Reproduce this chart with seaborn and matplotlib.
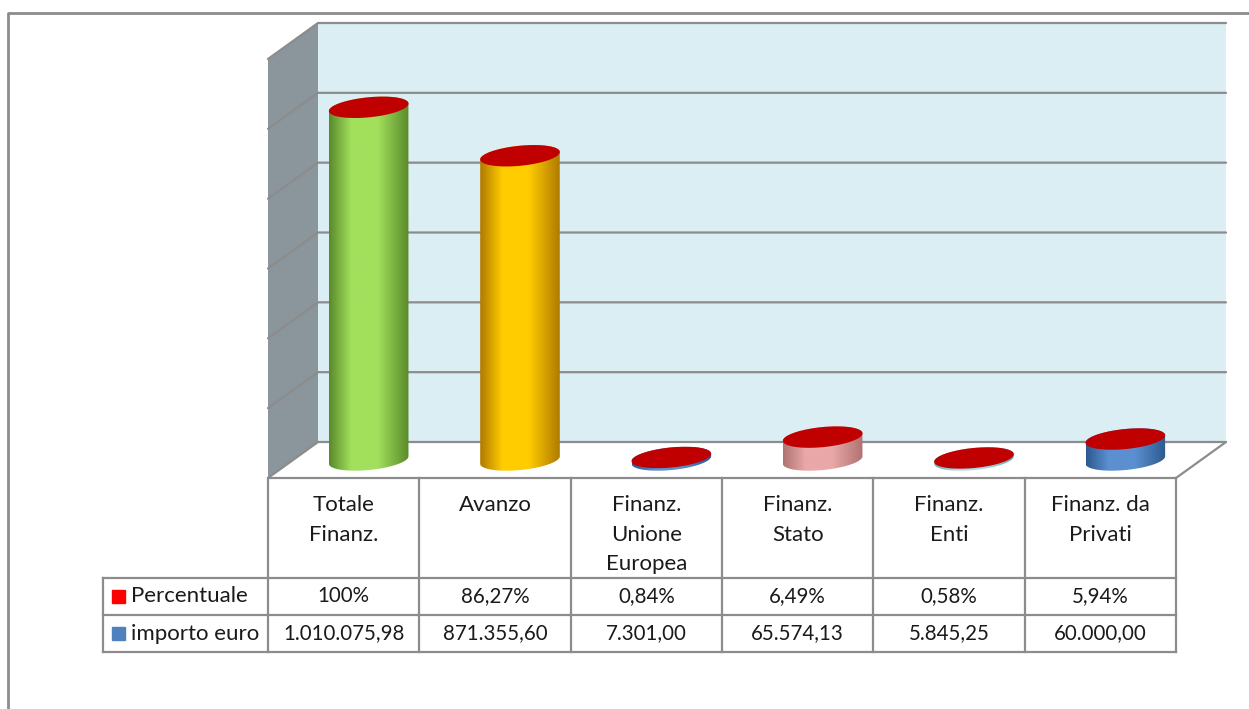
import numpy as np
import pandas as pd
import seaborn as sns
import matplotlib.pyplot as plt
from matplotlib.colors import LinearSegmentedColormap
from matplotlib.patches import Polygon, Rectangle, PathPatch
from matplotlib.path import Path
from matplotlib.lines import Line2D

# data
CATEGORIES = ["Totale\nFinanz.", "Avanzo", "Finanz.\nUnione\nEuropea",
              "Finanz.\nStato", "Finanz.\nEnti", "Finanz. da\nPrivati"]
IMPORTO = [1010075.98, 871355.60, 7301.00, 65574.13, 5845.25, 60000.00]
PERCENTUALE = [1.0, 0.8627, 0.0084, 0.0649, 0.0058, 0.0594]
PERC_LABELS = ["100%", "86,27%", "0,84%", "6,49%", "0,58%", "5,94%"]
IMPORTO_LABELS = ["1.010.075,98", "871.355,60", "7.301,00", "65.574,13",
                  "5.845,25", "60.000,00"]
SERIES = ["Percentuale", "importo euro"]
Y_MAX = 1200000
Y_STEP = 200000

# (dark edge, light centre) per point
BODY_COLORS = [("#5a8a2a", "#a2e05c"), ("#b07a00", "#ffcc00"),
               ("#2a5a9a", "#5b8fd0"), ("#b07272", "#eaa8a8"),
               ("#6aaab8", "#a8dce8"), ("#2c5a8e", "#5b8fd0")]
TOP_COLOR = "#c00000"
GRID = "#8c8c8c"

sns.set_theme(style="white")
plt.rcParams["font.family"] = ["Lato", "DejaVu Sans"]

W, H = 1249, 709
fig = plt.figure(figsize=(W / 100, H / 100), dpi=100)

# mid-depth plane of the 3D plot
x0, x1, yb, yt = 293, 1201, 460, 41
ax = fig.add_axes([x0 / W, 1 - yb / H, (x1 - x0) / W, (yb - yt) / H])
n = len(CATEGORIES)
PXX = (x1 - x0) / n            # px per category
PXY = (yb - yt) / Y_MAX        # px per euro
DX = 25 / PXX
DY = 18 / PXY

df = pd.DataFrame({"cat": CATEGORIES, "importo": IMPORTO, "perc": PERCENTUALE})
sns.barplot(data=df, x="cat", y="importo", hue="cat", palette=[c[1] for c in BODY_COLORS],
            width=80 / PXX, legend=False, ax=ax)

# walls and floor
lo, hi = -0.5, n - 0.5
ax.add_patch(Polygon([(lo + DX, DY), (hi + DX, DY), (hi + DX, Y_MAX + DY), (lo + DX, Y_MAX + DY)],
                     closed=True, facecolor="#dbeef4", edgecolor="none", zorder=0, clip_on=False))
ax.add_patch(Polygon([(lo - DX, -DY), (lo + DX, DY), (lo + DX, Y_MAX + DY), (lo - DX, Y_MAX - DY)],
                     closed=True, facecolor="#8a969b", edgecolor="none", zorder=0, clip_on=False))
ax.add_patch(Polygon([(lo - DX, -DY), (hi - DX, -DY), (hi + DX, DY), (lo + DX, DY)],
                     closed=True, facecolor="white", edgecolor="none", zorder=0, clip_on=False))
for v in np.arange(0, Y_MAX + 1, Y_STEP):
    ax.plot([lo - DX, lo + DX, hi + DX], [v - DY, v + DY, v + DY], color=GRID, lw=1.6,
            zorder=1, clip_on=False, solid_joinstyle="miter")
ax.plot([hi + DX, hi - DX], [DY, -DY], color=GRID, lw=1.6, zorder=1, clip_on=False)
ax.plot([lo - DX, hi - DX], [-DY, -DY], color=GRID, lw=1.6, zorder=1, clip_on=False)


def ellipse_pts(cx, cy, a=40, b=10, phi=np.deg2rad(5.7), m=361):
    t = np.linspace(0, 2 * np.pi, m)
    ex = a * np.cos(t) * np.cos(phi) - b * np.sin(t) * np.sin(phi)
    ey = a * np.cos(t) * np.sin(phi) + b * np.sin(t) * np.cos(phi)
    return cx + ex / PXX, cy + ey / PXY


# cylinders built on the seaborn bars
bars = [p for p in ax.patches if isinstance(p, Rectangle)][:n]
for i, bar in enumerate(bars):
    bar.set_visible(False)
    cx = bar.get_x() + bar.get_width() / 2
    h = bar.get_height()
    top = h + df.perc[i]
    bx, by = ellipse_pts(cx, 0)
    tx, ty = ellipse_pts(cx, top)
    il, ir = np.argmin(bx[:-1]), np.argmax(bx[:-1])
    idx = np.arange(il, il + 361) % 360
    k = int(np.where(idx == ir)[0][0])
    low = idx[:k + 1]
    upp = np.concatenate([idx[k:], [il]])
    hull = np.column_stack([np.r_[bx[low], tx[upp]], np.r_[by[low], ty[upp]]])
    clip = PathPatch(Path(hull), transform=ax.transData, facecolor="none", edgecolor="none")
    ax.add_patch(clip)
    dark, light = BODY_COLORS[i]
    cmap = LinearSegmentedColormap.from_list("c", [dark, light, light, dark], N=256)
    grad = np.interp(np.linspace(0, 1, 200), [0, 0.42, 1], [0, 0.5, 1])[None, :]
    im = ax.imshow(grad, cmap=cmap, extent=[bx.min(), bx.max(), by.min(), ty.max()],
                   aspect="auto", zorder=3, interpolation="bilinear", origin="lower")
    im.set_clip_path(clip)
    im.set_clip_box(fig.bbox)
    ax.fill(tx, ty, color=TOP_COLOR, zorder=4, lw=0, clip_on=False)

ax.set_xlim(lo, hi)
ax.set_ylim(0, Y_MAX)
ax.set_axis_off()

# data table
tx0, tx1, ty0, ty1 = 103, 1176, 478, 652
tax = fig.add_axes([tx0 / W, 1 - ty1 / H, (tx1 - tx0) / W, (ty1 - ty0) / H])
lx = -(268 - tx0) / PXX
tax.set_xlim(lx, n)
tax.set_ylim(ty1 - ty0, 0)
tax.set_axis_off()
r1, r2, r3 = 100, 137, 174
lk = dict(color=GRID, lw=1.6, clip_on=False, solid_capstyle="projecting")
for c in range(n + 1):
    tax.plot([c, c], [0, r3], **lk)
tax.plot([lx, lx], [r1, r3], **lk)
for r in [r1, r2, r3]:
    tax.plot([lx, n], [r, r], **lk)

fs = 16
fs_num = 14.8
TXT = "#1a1a1a"
for c in range(n):
    tax.text(c + 0.5, 17, CATEGORIES[c], ha="center", va="top", fontsize=fs,
             linespacing=1.6, color=TXT)
    tax.text(c + 0.5, (r1 + r2) / 2, PERC_LABELS[c], ha="center", va="center",
             fontsize=fs_num, color=TXT)
    tax.text(c + 0.5, (r2 + r3) / 2, IMPORTO_LABELS[c], ha="center", va="center",
             fontsize=fs_num, color=TXT)

for j, (name, col) in enumerate(zip(SERIES, ["#ff0000", "#4f81bd"])):
    yc = (r1 + r2) / 2 if j == 0 else (r2 + r3) / 2
    tax.add_patch(Rectangle((lx + 9 / PXX, yc - 6.5), 13 / PXX, 13, color=col, clip_on=False))
    tax.text(lx + 28 / PXX, yc, name, ha="left", va="center", fontsize=fs, color=TXT)

# chart frame
fig.add_artist(Line2D([8 / W, 8 / W, 1.0], [0, 1 - 13 / H, 1 - 13 / H],
                      transform=fig.transFigure, color="#8c8c8c", lw=2))

fig.savefig("out.png", dpi=100)
